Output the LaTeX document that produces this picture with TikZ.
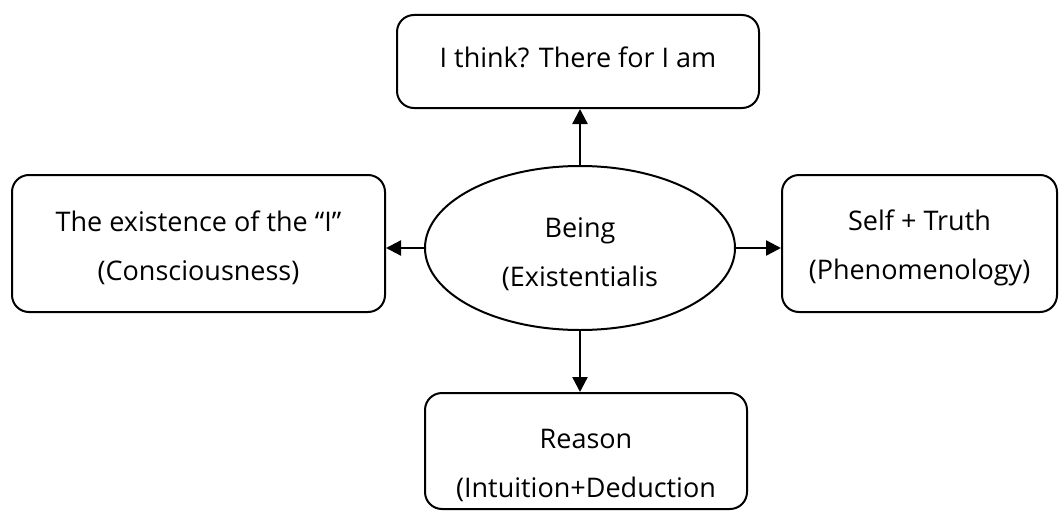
\documentclass[tikz,border=0pt]{standalone}
\usepackage{fontspec}
\setmainfont{Open Sans}
\usetikzlibrary{shapes.geometric,arrows.meta}

% invisible struts that move a label block up or down inside its shape
\newcommand{\dropby}[1]{\rule{0pt}{#1}}
\newcommand{\liftby}[1]{\rule[-#1]{0pt}{#1}}

\tikzset{
  box/.style={draw, line width=2pt, rounded corners=17pt, align=center,
              inner sep=0pt, font=\fontsize{27}{49}\selectfont},
  core/.style={draw, ellipse, line width=2pt, align=center, inner sep=0pt,
               font=\fontsize{27}{49}\selectfont},
  link/.style={line width=2.4pt, -{Triangle[length=15pt,width=15pt]}}
}

\begin{document}
\begin{tikzpicture}[x=1pt,y=-1pt]
  \useasboundingbox (0,0) rectangle (1059,511);

  % centre idea
  \node[core, minimum width=310pt, minimum height=164pt] (ell) at (580,248)
    {\dropby{33pt}Being\\(Existentialis};

  % surrounding ideas
  \node[box, minimum width=362pt, minimum height=93pt] (top) at (578,61.5)
    {I think? There for I am\liftby{8pt}};
  \node[box, minimum width=373pt, minimum height=137pt] (lft) at (198.5,243.5)
    {\dropby{30pt}The existence of the “I”\\(Consciousness)};
  \node[box, minimum width=275pt, minimum height=137pt] (rgt) at (919.5,243.5)
    {\dropby{29pt}Self + Truth\\(Phenomenology)};
  \node[box, minimum width=322pt, minimum height=116pt] (bot) at (586,451)
    {\dropby{48pt}Reason\\(Intuition+Deduction};

  % connectors
  \draw[link] (ell.north) -- (ell.north |- top.south);
  \draw[link] (ell.south) -- (ell.south |- bot.north);
  \draw[link] (ell.west) -- (ell.west -| lft.east);
  \draw[link] (ell.east) -- (ell.east -| rgt.west);
\end{tikzpicture}
\end{document}
